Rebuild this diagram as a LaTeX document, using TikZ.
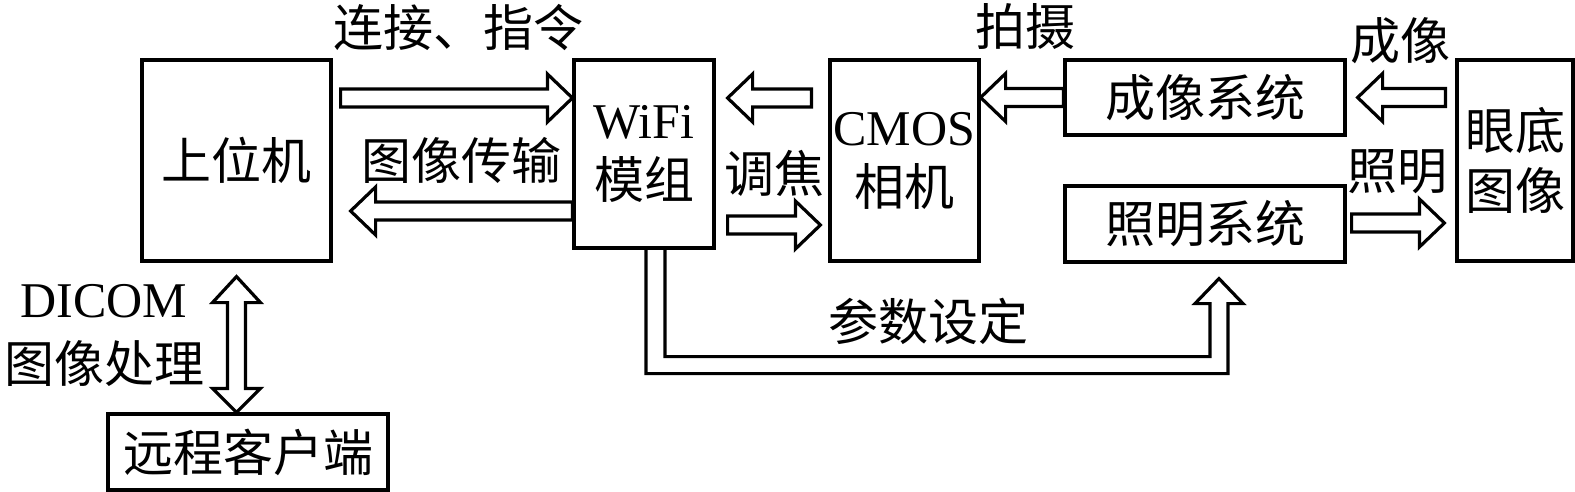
\documentclass[tikz,border=0pt]{standalone}
\usepackage{fontspec}
\setmainfont{Liberation Serif}
\newfontfamily\cjk{Noto Sans CJK SC}
\usetikzlibrary{calc}
\newcommand\fsz{\fontsize{50}{60}\selectfont}
% horizontal hollow block arrow: tail, tip
\newcommand\harr[2]{%
  \draw[blk] let \p1=(#1), \p2=(#2), \n1={(\x2-\x1)/abs(\x2-\x1)} in
  (\x1,\y1-9pt) -- ({\x2-(\n1)*25pt},\y1-9pt) -- ({\x2-(\n1)*25pt},\y1-24pt)
  -- (\x2,\y1) -- ({\x2-(\n1)*25pt},\y1+24pt) -- ({\x2-(\n1)*25pt},\y1+9pt)
  -- (\x1,\y1+9pt) -- cycle;}
% vertical double-headed hollow arrow: tip1, tip2
\newcommand\vdarr[2]{%
  \draw[blk] let \p1=(#1), \p2=(#2), \n1={(\y2-\y1)/abs(\y2-\y1)} in
  (\x1,\y1) -- ({\x1+24pt},{\y1+(\n1)*26pt}) -- ({\x1+9pt},{\y1+(\n1)*26pt})
  -- ({\x1+9pt},{\y2-(\n1)*24pt}) -- ({\x1+24pt},{\y2-(\n1)*24pt}) -- (\x1,\y2)
  -- ({\x1-24pt},{\y2-(\n1)*24pt}) -- ({\x1-9pt},{\y2-(\n1)*24pt})
  -- ({\x1-9pt},{\y1+(\n1)*26pt}) -- ({\x1-24pt},{\y1+(\n1)*26pt}) -- cycle;}
\begin{document}
\begin{tikzpicture}[x=1pt,y=-1pt,
  box/.style={draw, line width=3.2pt, inner sep=0pt, align=center, font=\fsz\cjk},
  blk/.style={draw, line width=3.2pt, line join=miter, fill=white},
  lbl/.style={inner sep=0pt, font=\fsz\cjk},
  lat/.style={inner sep=0pt, font=\fsz}]
\useasboundingbox[fill=white] (0,0) rectangle (1575,492);

% boxes
\node[box, minimum width=189pt, minimum height=201pt] (host) at (236.5,160.5) {上位机};
\node[box, minimum width=140pt, minimum height=188pt] (wifi) at (644,154) {\rmfamily WiFi\\模组};
\node[box, minimum width=149pt, minimum height=201pt] (cmos) at (904.5,160.5) {\rmfamily CMOS\\相机};
\node[box, minimum width=280pt, minimum height=75pt] (imaging) at (1205,97.5) {成像系统};
\node[box, minimum width=280pt, minimum height=76pt] (illum) at (1205,224) {照明系统};
\node[box, minimum width=116pt, minimum height=201pt] (fundus) at (1515,160.5) {眼底\\图像};
\node[box, minimum width=280pt, minimum height=76pt] (remote) at (248,452) {远程客户端};

% labels
\node[lbl] (l1) at (458,28) {连接、指令};
\node[lbl] (l2) at (461,160) {图像传输};
\node[lbl] (l3) at (774,173) {调焦};
\node[lbl] (l4) at (1025,27) {拍摄};
\node[lbl] (l5) at (1400,41) {成像};
\node[lbl] (l6) at (1397,172) {照明};
\node[lbl] (l7) at (928,321) {参数设定};
\node[lat] (l8) at (104,301.5) {DICOM};
\node[lbl] (l9) at (105,364) {图像处理};

% block arrows
\harr{$(host.east|-0,98)+(8,0)$}{wifi.west|-0,98}
\harr{wifi.west|-0,211}{$(host.east|-0,211)+(18,0)$}
\harr{$(cmos.west|-0,98)+(-17,0)$}{$(wifi.east|-0,98)+(12,0)$}
\harr{$(wifi.east|-0,225)+(12,0)$}{$(cmos.west|-0,225)+(-8,0)$}
\harr{imaging.west}{cmos.east|-imaging.west}
\harr{$(fundus.west|-imaging.east)+(-10,0)$}{$(imaging.east)+(11,0)$}
\harr{$(illum.east)+(5,-1)$}{$(fundus.west|-illum.east)+(-11,-1)$}
\vdarr{$(host.south)+(0,14)$}{host.south|-remote.north}

% parameter setting arrow
\coordinate (pT) at ($(illum.south)+(14,15)$);
\draw[blk, fill=none] ($(wifi.south)+(2,0)$) |- ($(pT)+(9,95)$) -- ($(pT)+(9,25)$)
  -- ($(pT)+(24,25)$) -- (pT) -- ($(pT)+(-24,25)$) -- ($(pT)+(-9,25)$)
  |- ($(wifi.south)+(21,107)$) -- ($(wifi.south)+(21,0)$);
\end{tikzpicture}
\end{document}
